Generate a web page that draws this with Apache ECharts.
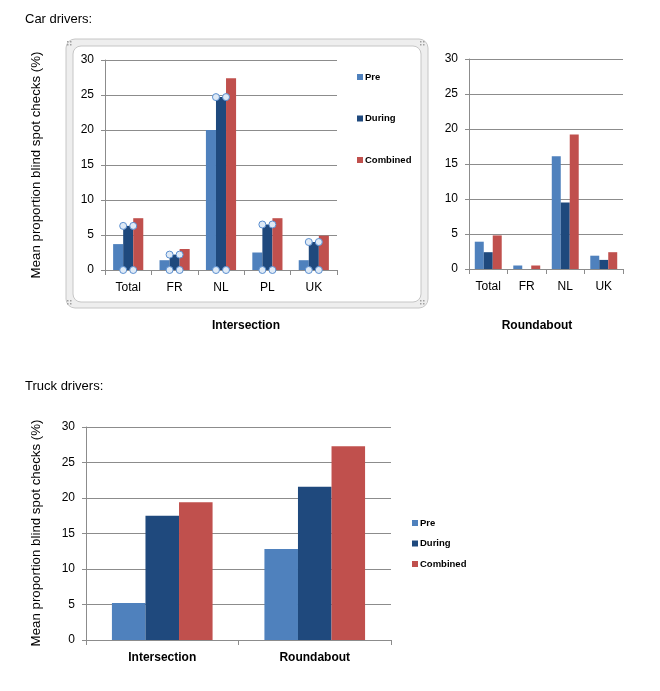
<!DOCTYPE html>
<html>
<head>
<meta charset="utf-8">
<script src="https://cdn.jsdelivr.net/npm/echarts@6/dist/echarts.min.js"></script>
<style>html,body{margin:0;padding:0;background:#fff}#c{width:660px;height:691px}</style>
</head>
<body>
<div id="c"></div>
<script>
// ---- data ----
const carIntCats = ['Total', 'FR', 'NL', 'PL', 'UK'];
const carIntPre = [3.7, 1.4, 20.0, 2.5, 1.4];
const carIntDuring = [6.3, 2.2, 24.7, 6.5, 4.0];
const carIntCombined = [7.4, 3.0, 27.4, 7.4, 4.9];

const carRbCats = ['Total', 'FR', 'NL', 'UK'];
const carRbPre = [3.9, 0.5, 16.1, 1.9];
const carRbDuring = [2.4, 0, 9.5, 1.3];
const carRbCombined = [4.8, 0.5, 19.2, 2.4];

const truckCats = ['Intersection', 'Roundabout'];
const truckPre = [5.2, 12.8];
const truckDuring = [17.5, 21.6];
const truckCombined = [19.4, 27.3];

const yTicks = { min: 0, max: 30, interval: 5 };
const seriesNames = ['Pre', 'During', 'Combined'];
const colors = ['#4F81BD', '#1F497D', '#C0504D'];

// ---- styles ----
const FONT = 'Liberation Sans';
const gridColor = '#8c8c8c';

function xAxis(idx, cats, bold) {
  return {
    type: 'category', gridIndex: idx, data: cats,
    axisLine: { lineStyle: { color: gridColor } },
    axisTick: { show: true, length: 5, lineStyle: { color: gridColor } },
    axisLabel: { color: '#000', fontFamily: FONT, fontSize: 12, fontWeight: bold ? 'bold' : 'normal', margin: 12 }
  };
}
function yAxis(idx) {
  return {
    type: 'value', gridIndex: idx, min: yTicks.min, max: yTicks.max, interval: yTicks.interval,
    axisLine: { show: true, lineStyle: { color: gridColor } },
    axisTick: { show: true, length: 4, lineStyle: { color: gridColor } },
    splitLine: { lineStyle: { color: gridColor } },
    axisLabel: { color: '#000', fontFamily: FONT, fontSize: 12, margin: 11 }
  };
}
function bars(idx, arrs, gap) {
  return arrs.map((d, i) => ({
    name: seriesNames[i], type: 'bar', xAxisIndex: idx, yAxisIndex: idx, data: d,
    barGap: '0%', barCategoryGap: gap,
    itemStyle: { color: colors[i] },
    emphasis: { disabled: true }, animation: false
  }));
}

const series = [].concat(
  bars(0, [carIntPre, carIntDuring, carIntCombined], '35%'),
  bars(1, [carRbPre, carRbDuring, carRbCombined], '30%'),
  bars(2, [truckPre, truckDuring, truckCombined], '34%')
);

// selection handles on the "During" bars in the intersection chart
series.push({
  type: 'custom', xAxisIndex: 0, yAxisIndex: 0, silent: true, animation: false, z: 5,
  data: carIntDuring.map((v, i) => [i, v]),
  renderItem: function (params, api) {
    const top = api.coord([api.value(0), api.value(1)]);
    const base = api.coord([api.value(0), 0]);
    const band = api.size([1, 0])[0];
    const bw = band * 0.65 / 3;
    const pts = [[top[0] - bw / 2, top[1]], [top[0] + bw / 2, top[1]], [base[0] - bw / 2, base[1]], [base[0] + bw / 2, base[1]]];
    return {
      type: 'group',
      children: pts.map(p => ({
        type: 'circle', shape: { cx: p[0], cy: p[1], r: 3.5 },
        style: { fill: '#dfeaf6', stroke: '#5b8fd0', lineWidth: 1 }
      }))
    };
  }
});

const chart = echarts.init(document.getElementById('c'), null, { renderer: 'canvas' });

function handleDots(x, y) {
  const out = [];
  for (const [dx, dy] of [[0,0],[3,0],[0,3],[3,3]]) {
    out.push({ type: 'rect', shape: { x: x + dx, y: y + dy, width: 1.5, height: 1.5 }, style: { fill: '#a0a0a0' }, z: -1 });
  }
  return out;
}

const graphics = [
  // chart frame (selection look)
  { type: 'rect', shape: { x: 66, y: 39, width: 362, height: 269, r: 9 }, style: { fill: '#eeeeee', stroke: '#c6c6c6', lineWidth: 1 }, z: -10 },
  { type: 'rect', shape: { x: 73, y: 46, width: 348, height: 256, r: 8 }, style: { fill: '#ffffff', stroke: '#c6c6c6', lineWidth: 1 }, z: -9 },
  { type: 'text', left: 25, top: 13, style: { text: 'Car drivers:', font: '13px ' + FONT, fill: '#000' } },
  { type: 'text', left: 25, top: 380, style: { text: 'Truck drivers:', font: '13px ' + FONT, fill: '#000' } },
  { type: 'text', x: 36, y: 165, rotation: Math.PI / 2, style: { text: 'Mean proportion blind spot checks (%)', font: '13.3px ' + FONT, fill: '#000', align: 'center', verticalAlign: 'middle' } },
  { type: 'text', x: 36, y: 533, rotation: Math.PI / 2, style: { text: 'Mean proportion blind spot checks (%)', font: '13.3px ' + FONT, fill: '#000', align: 'center', verticalAlign: 'middle' } },
  { type: 'text', x: 246, y: 326, style: { text: 'Intersection', font: 'bold 12px ' + FONT, fill: '#000', align: 'center', verticalAlign: 'middle' } },
  { type: 'text', x: 537, y: 326, style: { text: 'Roundabout', font: 'bold 12px ' + FONT, fill: '#000', align: 'center', verticalAlign: 'middle' } }
].concat(handleDots(67, 41), handleDots(420, 41), handleDots(67, 300), handleDots(420, 300));

chart.setOption({
  animation: false,
  textStyle: { fontFamily: FONT },
  grid: [
    { left: 105, top: 60, width: 232, height: 210 },
    { left: 469, top: 59, width: 154, height: 210 },
    { left: 86, top: 427, width: 305, height: 213 }
  ],
  xAxis: [xAxis(0, carIntCats, false), xAxis(1, carRbCats, false), xAxis(2, truckCats, true)],
  yAxis: [yAxis(0), yAxis(1), yAxis(2)],
  legend: [
    { data: seriesNames, orient: 'vertical', left: 357, top: 72, padding: 0, itemWidth: 6, itemHeight: 6, itemGap: 31.5, icon: 'rect',
      selectedMode: false, textStyle: { fontFamily: FONT, fontSize: 9.5, color: '#000', fontWeight: 'bold', padding: [0, 0, 0, -3] } },
    { data: seriesNames, orient: 'vertical', left: 412, top: 518, padding: 0, itemWidth: 6, itemHeight: 6, itemGap: 10.5, icon: 'rect',
      selectedMode: false, textStyle: { fontFamily: FONT, fontSize: 9.5, color: '#000', fontWeight: 'bold', padding: [0, 0, 0, -3] } }
  ],
  graphic: graphics,
  series: series
});
</script>
</body>
</html>
